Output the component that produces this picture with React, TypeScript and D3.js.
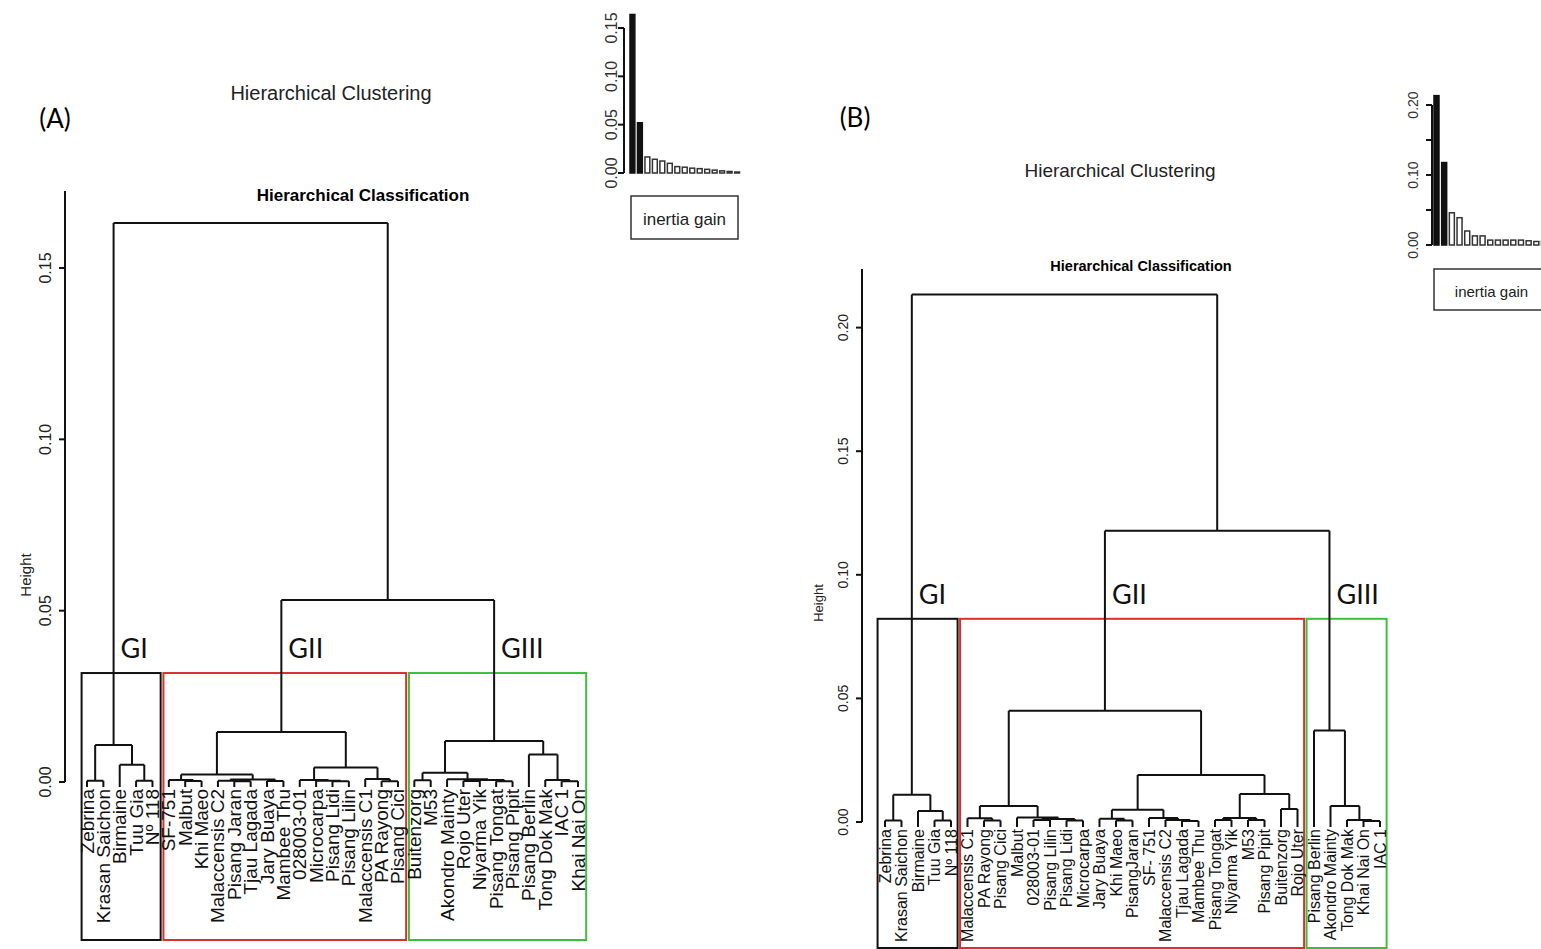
import React from "react";
import * as d3 from "d3";

// ---- Panel A data ----
const leavesA = [
  "Zebrina", "Krasan Saichon", "Birmaine", "Tuu Gia", "Nº 118",
  "SF-751", "Malbut", "Khi Maeo", "Malaccensis C2", "Pisang Jaran", "Tjau Lagada",
  "Jary Buaya", "Mambee Thu", "028003-01", "Microcarpa", "Pisang Lidi", "Pisang Lilin",
  "Malaccensis C1", "PA Rayong", "Pisang Cici",
  "Buitenzorg", "M53", "Akondro Mainty", "Rojo Uter", "Niyarma Yik", "Pisang Tongat",
  "Pisang Pipit", "Pisang Berlin", "Tong Dok Mak", "IAC 1", "Khai Nai On",
];

// [id, left, right, height]
const mergesA: [string, string, string, number][] = [
  ["a1", "Zebrina", "Krasan Saichon", 0.0004],
  ["a2", "Tuu Gia", "Nº 118", 0.0004],
  ["a3", "Birmaine", "a2", 0.005],
  ["a4", "a1", "a3", 0.0108],
  ["a5", "Malbut", "Khi Maeo", 0.0003],
  ["a6", "SF-751", "a5", 0.0006],
  ["a7", "Pisang Jaran", "Tjau Lagada", 0.0002],
  ["a8", "Malaccensis C2", "a7", 0.0004],
  ["a9", "Jary Buaya", "Mambee Thu", 0.0003],
  ["a10", "a8", "a9", 0.0007],
  ["a11", "a6", "a10", 0.0022],
  ["a12", "Pisang Lidi", "Pisang Lilin", 0.0002],
  ["a13", "Microcarpa", "a12", 0.0004],
  ["a14", "028003-01", "a13", 0.0006],
  ["a15", "PA Rayong", "Pisang Cici", 0.0002],
  ["a16", "Malaccensis C1", "a15", 0.0009],
  ["a17", "a14", "a16", 0.0042],
  ["a18", "a11", "a17", 0.0146],
  ["a19", "Buitenzorg", "M53", 0.0005],
  ["a20", "Rojo Uter", "Niyarma Yik", 0.0003],
  ["a21", "Pisang Tongat", "Pisang Pipit", 0.0002],
  ["a22", "a20", "a21", 0.0006],
  ["a23", "Akondro Mainty", "a22", 0.0008],
  ["a24", "a19", "a23", 0.0027],
  ["a25", "IAC 1", "Khai Nai On", 0.0002],
  ["a26", "Tong Dok Mak", "a25", 0.0006],
  ["a27", "Pisang Berlin", "a26", 0.008],
  ["a28", "a24", "a27", 0.012],
  ["a29", "a18", "a28", 0.0531],
  ["a30", "a4", "a29", 0.1631],
];

const groupNames = ["GI", "GII", "GIII"];
const groupSpanA = [["Zebrina", "Nº 118"], ["SF-751", "Pisang Cici"], ["Buitenzorg", "Khai Nai On"]];
const groupNodeA = ["a4", "a18", "a28"];
const heightTicksA = [0, 0.05, 0.1, 0.15];
const gainA = [0.164, 0.052, 0.0166, 0.0142, 0.0124, 0.01, 0.0066, 0.006, 0.005, 0.0045, 0.0038, 0.003, 0.0022, 0.0016, 0.001];
const gainTicksA = [0, 0.05, 0.1, 0.15];
const gainLabelsA = ["0.00", "0.05", "0.10", "0.15"];

// ---- Panel B data ----
const leavesB = [
  "Zebrina", "Krasan Saichon", "Birmaine", "Tuu Gia", "Nº 118",
  "Malaccensis C1", "PA Rayong", "Pisang Cici", "Malbut", "028003-01", "Pisang Lilin",
  "Pisang Lidi", "Microcarpa", "Jary Buaya", "Khi Maeo", "PisangJaran", "SF- 751",
  "Malaccensis C2", "Tjau Lagada", "Mambee Thu", "Pisang Tongat", "Niyarma Yik", "M53",
  "Pisang Pipit", "Buitenzorg", "Rojo Uter",
  "Pisang Berlin", "Akondro Mainty", "Tong Dok Mak", "Khai Nai On", "IAC 1",
];

const mergesB: [string, string, string, number][] = [
  ["b1", "Zebrina", "Krasan Saichon", 0.0006],
  ["b2", "Tuu Gia", "Nº 118", 0.0006],
  ["b3", "Birmaine", "b2", 0.0045],
  ["b4", "b1", "b3", 0.011],
  ["b5", "PA Rayong", "Pisang Cici", 0.0006],
  ["b6", "Malaccensis C1", "b5", 0.0015],
  ["b7", "028003-01", "Pisang Lilin", 0.0008],
  ["b8", "Pisang Lidi", "Microcarpa", 0.0006],
  ["b9", "b7", "b8", 0.0012],
  ["b10", "Malbut", "b9", 0.0018],
  ["b11", "b6", "b10", 0.0065],
  ["b12", "Khi Maeo", "PisangJaran", 0.0006],
  ["b13", "Jary Buaya", "b12", 0.0013],
  ["b14", "Tjau Lagada", "Mambee Thu", 0.0004],
  ["b15", "Malaccensis C2", "b14", 0.0008],
  ["b16", "SF- 751", "b15", 0.0016],
  ["b17", "b13", "b16", 0.005],
  ["b18", "Pisang Tongat", "Niyarma Yik", 0.0008],
  ["b19", "M53", "Pisang Pipit", 0.0008],
  ["b20", "b18", "b19", 0.0016],
  ["b21", "Buitenzorg", "Rojo Uter", 0.0053],
  ["b22", "b20", "b21", 0.0113],
  ["b23", "b17", "b22", 0.019],
  ["b24", "b11", "b23", 0.045],
  ["b25", "Khai Nai On", "IAC 1", 0.0004],
  ["b26", "Tong Dok Mak", "b25", 0.0008],
  ["b27", "Akondro Mainty", "b26", 0.0065],
  ["b28", "Pisang Berlin", "b27", 0.037],
  ["b29", "b24", "b28", 0.1178],
  ["b30", "b4", "b29", 0.2134],
];

const groupSpanB = [["Zebrina", "Nº 118"], ["Malaccensis C1", "Rojo Uter"], ["Pisang Berlin", "IAC 1"]];
const groupNodeB = ["b4", "b24", "b28"];
const heightTicksB = [0, 0.05, 0.1, 0.15, 0.2];
const gainB = [0.2134, 0.1178, 0.046, 0.039, 0.02, 0.013, 0.013, 0.007, 0.007, 0.007, 0.007, 0.007, 0.006, 0.005, 0.005];
const gainTicksB = [0, 0.05, 0.1, 0.15, 0.2];
const gainLabelsB = ["0.00", "", "0.10", "", "0.20"];

const groupColors = ["#111", "#d8302b", "#3cc03c"];
const rFont = "'Liberation Sans', Arial, sans-serif";
const cFont = "Lato, 'Open Sans', sans-serif";

interface DendroProps {
  leaves: string[];
  merges: [string, string, string, number][];
  spans: string[][];
  nodes: string[];
  ticks: number[];
  xRange: [number, number];
  yDomain: [number, number];
  yRange: [number, number];
  axisTop: number;
  axisX: number;
  tickLabelX: number;
  heightLabel: [number, number];
  tickFont: number;
  leafFont: number;
  hang: number;
  boxTop: number;
  boxBottom: number;
  padL: number;
  padR: number;
  groupFont: number;
  title: [number, number, number];
}

const Dendrogram: React.FC<DendroProps> = (p) => {
  const x = d3.scalePoint<string>().domain(p.leaves).range(p.xRange);
  const y = d3.scaleLinear().domain(p.yDomain).range(p.yRange);
  const leafEnd = y(0) + p.hang;
  const pos = new Map<string, { x: number; h: number; leaf: boolean }>();
  p.leaves.forEach((l) => pos.set(l, { x: x(l)!, h: 0, leaf: true }));
  const path = d3.path();
  p.merges.forEach(([id, a, b, h]) => {
    const pa = pos.get(a)!;
    const pb = pos.get(b)!;
    const yh = y(h);
    [pa, pb].forEach((c) => {
      path.moveTo(c.x, c.leaf ? leafEnd : y(c.h));
      path.lineTo(c.x, yh);
    });
    path.moveTo(pa.x, yh);
    path.lineTo(pb.x, yh);
    pos.set(id, { x: (pa.x + pb.x) / 2, h, leaf: false });
  });
  const step = x.step();
  return (
    <g>
      <text x={p.title[0]} y={p.title[1]} textAnchor="middle" dominantBaseline="central"
        fontFamily={rFont} fontWeight="bold" fontSize={p.title[2]}>Hierarchical Classification</text>
      {/* axis */}
      <line x1={p.axisX} x2={p.axisX} y1={y(0)} y2={p.axisTop} stroke="#111" strokeWidth={2} />
      {p.ticks.map((t) => (
        <g key={t}>
          <line x1={p.axisX - 6} x2={p.axisX} y1={y(t)} y2={y(t)} stroke="#111" strokeWidth={2} />
          <text transform={`translate(${p.tickLabelX},${y(t)}) rotate(-90)`} textAnchor="middle"
            dominantBaseline="central" fontFamily={rFont} fontSize={p.tickFont} fill="#222">
            {d3.format(".2f")(t)}
          </text>
        </g>
      ))}
      <text transform={`translate(${p.heightLabel[0]},${p.heightLabel[1]}) rotate(-90)`} textAnchor="middle"
        dominantBaseline="central" fontFamily={rFont} fontSize={p.tickFont - 1} fill="#222">Height</text>
      {/* group boxes */}
      {p.spans.map(([f, l], i) => (
        <rect key={i} x={x(f)! - p.padL * step} y={y(p.boxTop)}
          width={x(l)! - x(f)! + (p.padL + p.padR) * step} height={p.boxBottom - y(p.boxTop)}
          fill="none" stroke={groupColors[i]} strokeWidth={2} />
      ))}
      <path d={path.toString()} fill="none" stroke="#111" strokeWidth={2} />
      {p.leaves.map((l) => (
        <text key={l} transform={`translate(${x(l)},${leafEnd + 2}) rotate(-90)`} textAnchor="end"
          dominantBaseline="central" fontFamily={rFont} fontSize={p.leafFont} fill="#111">{l}</text>
      ))}
      {p.nodes.map((n, i) => (
        <text key={n} x={pos.get(n)!.x + 7} y={y(p.boxTop) - 15} fontFamily={cFont}
          fontSize={p.groupFont} fill="#111">{groupNames[i]}</text>
      ))}
    </g>
  );
};

interface GainProps {
  gain: number[];
  ticks: number[];
  labels: string[];
  axisX: number;
  yRange: [number, number];
  xStart: number;
  step: number;
  labelX: number;
  font: number;
  legend: [number, number, number, number];
  legendFont: number;
}

const GainChart: React.FC<GainProps> = (p) => {
  const y = d3.scaleLinear().domain([0, p.ticks[p.ticks.length - 1]]).range(p.yRange);
  const x = d3.scaleBand<number>().domain(d3.range(p.gain.length))
    .range([p.xStart, p.xStart + p.step * p.gain.length]).paddingInner(0.35).paddingOuter(0);
  const [lx, ly, lw, lh] = p.legend;
  return (
    <g>
      <line x1={p.axisX} x2={p.axisX} y1={y(0)} y2={y(p.ticks[p.ticks.length - 1])} stroke="#111" strokeWidth={2} />
      {p.ticks.map((t, i) => (
        <g key={t}>
          <line x1={p.axisX - 6} x2={p.axisX} y1={y(t)} y2={y(t)} stroke="#111" strokeWidth={2} />
          {p.labels[i] && (
            <text transform={`translate(${p.labelX},${y(t)}) rotate(-90)`} textAnchor="middle"
              dominantBaseline="central" fontFamily={rFont} fontSize={p.font} fill="#333">{p.labels[i]}</text>
          )}
        </g>
      ))}
      {p.gain.map((g, i) => (
        <rect key={i} x={x(i)} y={y(g)} width={x.bandwidth()} height={y(0) - y(g)}
          fill={i < 2 ? "#111" : "#fff"} stroke={i < 2 ? "#111" : "#333"} strokeWidth={1.5} />
      ))}
      <rect x={lx} y={ly} width={lw} height={lh} fill="#fff" stroke="#333" strokeWidth={1.5} />
      <text x={lx + lw / 2} y={ly + lh / 2 + 2} textAnchor="middle" dominantBaseline="central"
        fontFamily={rFont} fontSize={p.legendFont} fill="#222">inertia gain</text>
    </g>
  );
};

export default function App() {
  return (
    <svg width={1541} height={949} style={{ position: "absolute", left: 0, top: 0, background: "#fff" }}>
      {/* Panel A */}
      <text x={55} y={118} textAnchor="middle" dominantBaseline="central" fontFamily={cFont} fontSize={26}>(A)</text>
      <text x={331} y={93} textAnchor="middle" dominantBaseline="central" fontFamily={rFont} fontSize={20} fill="#222">
        Hierarchical Clustering
      </text>
      <Dendrogram leaves={leavesA} merges={mergesA} spans={groupSpanA} nodes={groupNodeA} ticks={heightTicksA}
        xRange={[87, 578]} yDomain={[0, 0.15]} yRange={[782, 268]} axisTop={191} axisX={65} tickLabelX={45}
        heightLabel={[25, 575]} tickFont={16} leafFont={19} hang={5} boxTop={0.0318} boxBottom={940}
        padL={0.33} padR={0.5} groupFont={27} title={[363, 195, 17]} />
      <GainChart gain={gainA} ticks={gainTicksA} labels={gainLabelsA} axisX={624} yRange={[173, 28]}
        xStart={630} step={7.3} labelX={611} font={16} legend={[631, 196, 107, 43]} legendFont={17} />

      {/* Panel B */}
      <text x={855} y={117} textAnchor="middle" dominantBaseline="central" fontFamily={cFont} fontSize={26}>(B)</text>
      <text x={1120} y={170} textAnchor="middle" dominantBaseline="central" fontFamily={rFont} fontSize={19} fill="#222">
        Hierarchical Clustering
      </text>
      <Dendrogram leaves={leavesB} merges={mergesB} spans={groupSpanB} nodes={groupNodeB} ticks={heightTicksB}
        xRange={[885, 1380]} yDomain={[0, 0.2]} yRange={[822, 327.6]} axisTop={269} axisX={862} tickLabelX={843}
        heightLabel={[818, 603]} tickFont={14} leafFont={16} hang={5} boxTop={0.0822} boxBottom={948}
        padL={0.45} padR={0.4} groupFont={27} title={[1141, 266, 14.5]} />
      <GainChart gain={gainB} ticks={gainTicksB} labels={gainLabelsB} axisX={1432} yRange={[245, 105]}
        xStart={1434} step={7.5} labelX={1413} font={14} legend={[1434, 269, 115, 41]} legendFont={15} />
    </svg>
  );
}
